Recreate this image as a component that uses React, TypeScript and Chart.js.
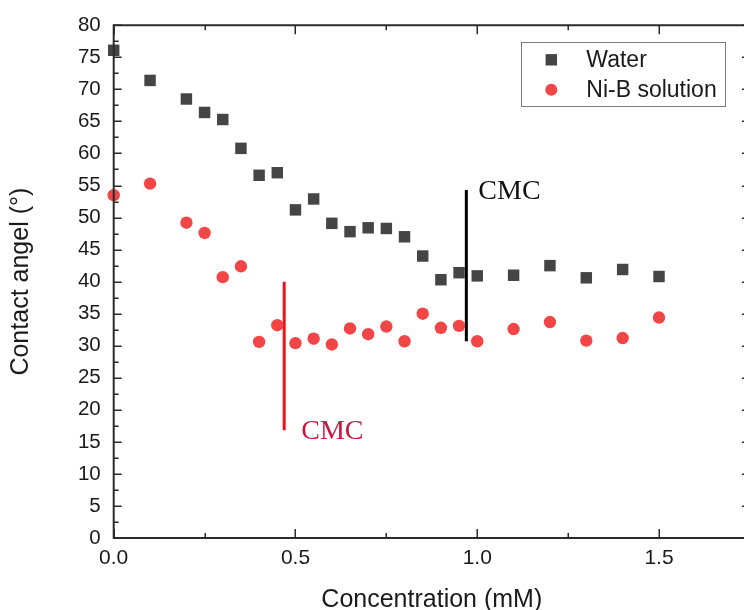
import React, { useEffect, useRef } from "react";
import { Chart, registerables } from "chart.js";

Chart.register(...registerables);

// ---- data ----
const concentration = [0, 0.1, 0.2, 0.25, 0.3, 0.35, 0.4, 0.45, 0.5, 0.55, 0.6, 0.65, 0.7, 0.75, 0.8, 0.85, 0.9, 0.95, 1.0, 1.1, 1.2, 1.3, 1.4, 1.5];
const waterAngle = [76.1, 71.4, 68.5, 66.4, 65.3, 60.8, 56.6, 57.0, 51.2, 52.9, 49.1, 47.8, 48.4, 48.3, 47.0, 44.0, 40.3, 41.4, 40.9, 41.0, 42.5, 40.6, 41.9, 40.8];
const niBAngle = [53.5, 55.3, 49.2, 47.6, 40.7, 42.4, 30.6, 33.2, 30.4, 31.1, 30.2, 32.7, 31.8, 33.0, 30.7, 35.0, 32.8, 33.1, 30.7, 32.6, 33.7, 30.8, 31.2, 34.4];
const seriesLabels = ["Water", "Ni-B solution"];
const xTickValues = [0, 0.5, 1.0, 1.5];
const xTickLabels = ["0.0", "0.5", "1.0", "1.5"];
const cmcWaterX = 0.97;
const cmcWaterY = [30.7, 54.3];
const cmcNiBX = 0.469;
const cmcNiBY = [16.8, 40.0];
const cmcLabel = "CMC";
const xTitle = "Concentration (mM)";
const yTitle = "Contact angel (°)";

const WATER_COLOR = "#454545";
const NIB_COLOR = "#f24545";
const AXIS_COLOR = "#2b2b2b";
const SANS = "'Liberation Sans', Arial, sans-serif";
const SERIF = "'Liberation Serif', 'Times New Roman', serif";

const decorPlugin = {
  id: "decor",
  afterDraw(chart: any) {
    const ctx = chart.ctx;
    const { left, right, top, bottom } = chart.chartArea;
    const xs = chart.scales.x;
    const ys = chart.scales.y;
    ctx.save();
    // frame
    ctx.strokeStyle = AXIS_COLOR;
    ctx.lineWidth = 2;
    ctx.beginPath();
    ctx.moveTo(left, top);
    ctx.lineTo(right, top);
    ctx.lineTo(right, bottom);
    ctx.lineTo(left, bottom);
    ctx.closePath();
    ctx.stroke();
    // x ticks (inward) on bottom and top
    ctx.lineWidth = 1.5;
    for (let v = 0; v <= xs.max + 1e-9; v += 0.25) {
      const px = Math.round(xs.getPixelForValue(v)) + 0.25;
      const major = Math.abs(v / 0.5 - Math.round(v / 0.5)) < 1e-6;
      const len = major ? 9 : 5;
      ctx.beginPath();
      ctx.moveTo(px, bottom);
      ctx.lineTo(px, bottom - len);
      ctx.moveTo(px, top);
      ctx.lineTo(px, top + len);
      ctx.stroke();
    }
    // y ticks (inward) on left and right
    for (let v = 0; v <= ys.max + 1e-9; v += 2.5) {
      const py = Math.round(ys.getPixelForValue(v)) + 0.25;
      const major = Math.abs(v / 5 - Math.round(v / 5)) < 1e-6;
      const len = major ? 8 : 5;
      ctx.beginPath();
      ctx.moveTo(left, py);
      ctx.lineTo(left + len, py);
      ctx.moveTo(right, py);
      ctx.lineTo(right - len, py);
      ctx.stroke();
    }
    // CMC labels
    ctx.textBaseline = "alphabetic";
    ctx.textAlign = "left";
    ctx.font = `28px ${SERIF}`;
    ctx.fillStyle = "#111111";
    ctx.fillText(cmcLabel, xs.getPixelForValue(cmcWaterX) + 12, ys.getPixelForValue(cmcWaterY[1]) + 8.5);
    ctx.fillStyle = "#c8163c";
    ctx.fillText(cmcLabel, xs.getPixelForValue(cmcNiBX) + 17, ys.getPixelForValue(cmcNiBY[0]) + 8.5);
    // legend
    const lx = right - 228.6;
    const ly = top + 16.5;
    ctx.strokeStyle = "#7a7a7a";
    ctx.lineWidth = 1;
    ctx.strokeRect(Math.round(lx) + 0.5, Math.round(ly) + 0.5, 204, 64);
    ctx.font = `23px ${SANS}`;
    ctx.fillStyle = "#1a1a1a";
    ctx.textBaseline = "middle";
    const mx = lx + 30;
    const tx = lx + 65;
    const y1 = ly + 18;
    const y2 = ly + 48;
    ctx.fillStyle = WATER_COLOR;
    ctx.fillRect(mx - 5.7, y1 - 5.7, 11.4, 11.4);
    ctx.fillStyle = NIB_COLOR;
    ctx.beginPath();
    ctx.arc(mx, y2, 6, 0, Math.PI * 2);
    ctx.fill();
    ctx.fillStyle = "#1a1a1a";
    ctx.fillText(seriesLabels[0], tx, y1 + 1);
    ctx.fillText(seriesLabels[1], tx, y2 + 1);
    ctx.restore();
  },
};

export default function App() {
  const canvasRef = useRef<HTMLCanvasElement | null>(null);

  useEffect(() => {
    const canvas = canvasRef.current;
    if (!canvas) return;
    const chart = new Chart(canvas, {
      type: "scatter",
      data: {
        datasets: [
          {
            label: seriesLabels[0],
            data: concentration.map((x, i) => ({ x, y: waterAngle[i] })),
            pointStyle: "rect",
            pointRadius: 8.1,
            pointBorderWidth: 0,
            backgroundColor: WATER_COLOR,
            borderColor: WATER_COLOR,
            clip: false,
          },
          {
            label: seriesLabels[1],
            data: concentration.map((x, i) => ({ x, y: niBAngle[i] })),
            pointStyle: "circle",
            pointRadius: 6.2,
            pointBorderWidth: 0,
            backgroundColor: NIB_COLOR,
            borderColor: NIB_COLOR,
            clip: false,
          },
          {
            label: "CMC water",
            data: cmcWaterY.map((y) => ({ x: cmcWaterX, y })),
            showLine: true,
            borderColor: "#000000",
            borderWidth: 3,
            pointRadius: 0,
            borderCapStyle: "butt",
          },
          {
            label: "CMC Ni-B",
            data: cmcNiBY.map((y) => ({ x: cmcNiBX, y })),
            showLine: true,
            borderColor: "#e8141e",
            borderWidth: 3,
            pointRadius: 0,
            borderCapStyle: "butt",
          },
        ],
      },
      options: {
        responsive: false,
        animation: false,
        devicePixelRatio: 1,
        layout: { padding: { top: 22.7, right: 2.4, left: 0, bottom: 0 } },
        plugins: {
          legend: { display: false },
          tooltip: { enabled: false },
        },
        scales: {
          x: {
            type: "linear",
            min: 0,
            max: 1.75,
            afterFit: (s: any) => {
              s.height = 72;
            },
            afterBuildTicks: (s: any) => {
              s.ticks = xTickValues.map((v) => ({ value: v }));
            },
            grid: { display: false, drawTicks: false },
            border: { display: false },
            ticks: {
              padding: 8,
              color: "#1a1a1a",
              font: { size: 21, family: SANS },
              callback: (v: any) => {
                const i = xTickValues.findIndex((t) => Math.abs(t - Number(v)) < 1e-6);
                return i >= 0 ? xTickLabels[i] : "";
              },
              maxRotation: 0,
            },
            title: {
              display: true,
              text: xTitle,
              color: "#1a1a1a",
              font: { size: 25, family: SANS, lineHeight: 1 },
              padding: { top: 0, bottom: -3 },
            },
          },
          y: {
            type: "linear",
            min: 0,
            max: 80,
            afterFit: (s: any) => {
              s.width = 113.7;
            },
            grid: { display: false, drawTicks: false },
            border: { display: false },
            ticks: {
              stepSize: 5,
              padding: 13,
              color: "#1a1a1a",
              font: { size: 20.5, family: SANS },
            },
            title: {
              display: true,
              text: yTitle,
              color: "#1a1a1a",
              font: { size: 25, family: SANS, lineHeight: 1 },
              padding: { top: 9, bottom: 0 },
            },
          },
        },
      },
      plugins: [decorPlugin],
    } as any);
    return () => chart.destroy();
  }, []);

  return (
    <div
      style={{
        position: "fixed",
        left: 0,
        top: 0,
        width: 744,
        height: 610,
        overflow: "hidden",
        background: "#ffffff",
      }}
    >
      <canvas ref={canvasRef} width={758} height={610} style={{ display: "block" }} />
    </div>
  );
}
